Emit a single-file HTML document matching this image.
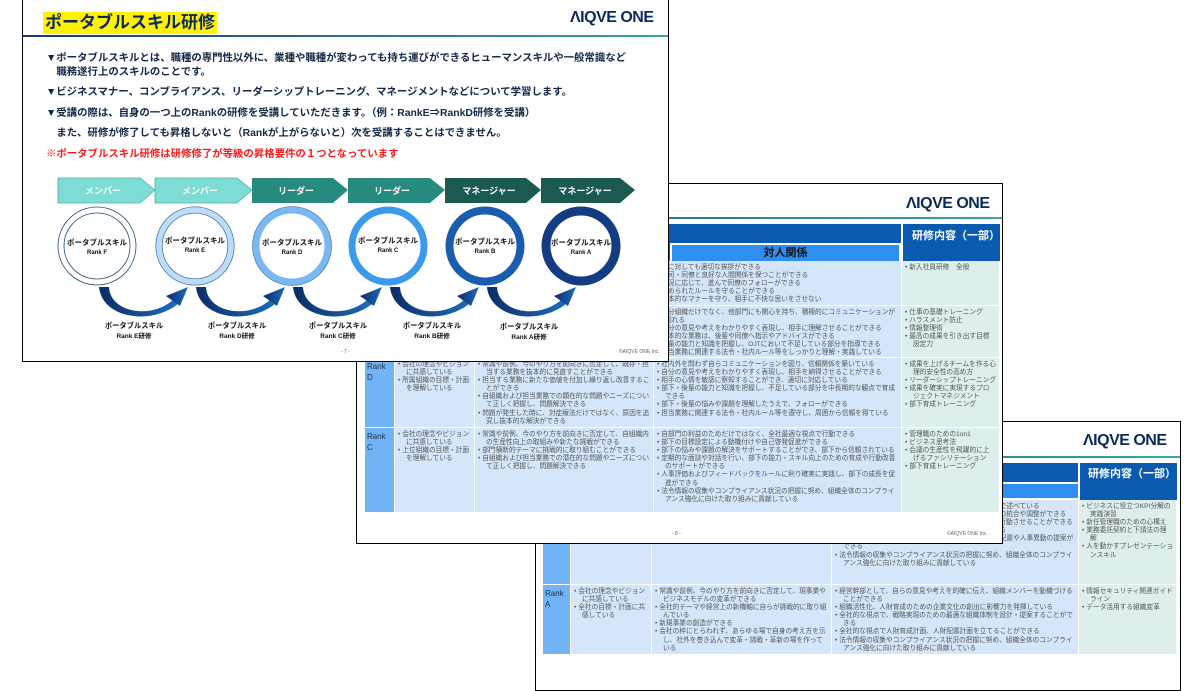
<!DOCTYPE html>
<html><head><meta charset="utf-8"><style>
*{margin:0;padding:0;box-sizing:border-box}
body{width:1200px;height:675px;background:#fff;position:relative;overflow:hidden;font-family:"Liberation Sans","Noto Sans CJK JP",sans-serif}
.sl{position:absolute;background:#fff;border:1.5px solid #000;overflow:hidden}
.ab{position:absolute}
.logo{position:absolute;font-family:"Liberation Sans",sans-serif;font-weight:bold;color:#0b2a5c;letter-spacing:-0.5px}
.c{position:absolute;overflow:hidden;font-size:6.7px;line-height:8.1px;color:#555;padding:3px 3px 0 3px;background:#d5e6fb;border-right:1.5px solid #fff;border-bottom:1.5px solid #fff}
.c div{padding-left:8px;text-indent:-8px}
.g{background:#ddeeed}
.rk{background:#70b4f6;color:#1a3050;font-size:8px;line-height:11px;padding:3px 2px}
.hd{position:absolute;background:#0a5bb0}
.ft{position:absolute;font-size:5px;color:#666}
.bt{position:absolute;left:23px;font-size:10.4px;font-weight:bold;color:#142848;line-height:13.5px;white-space:nowrap}
</style></head><body>

<!-- Slide 3 -->
<div class="sl" style="left:535px;top:421px;width:646px;height:270px">
 <div class="logo" style="left:547px;top:10px;font-size:16px">ΛIQVE ONE</div>
 <div class="ab" style="left:0;top:34px;width:646px;height:2px;background:linear-gradient(90deg,#1a4a7a,#3aa8a0)"></div>
</div>
<div class="hd" style="left:543px;top:463px;width:634px;height:37px"></div>
<div class="ab" style="left:1000px;top:482px;width:78px;height:18px;background:#2e8ff0;border:2px solid #fff;border-right:none"></div>
<div class="ab" style="left:1078px;top:463px;width:2px;height:37px;background:#fff"></div>
<div class="ab" style="left:1088px;top:465px;font-size:11px;color:#fff;font-weight:bold">研修内容（一部）</div>
<div class="c rk" style="left:543px;top:500px;width:28px;height:85px"></div>
<div class="c" style="left:571px;top:500px;width:81px;height:85px"></div>
<div class="c" style="left:652px;top:500px;width:180px;height:85px"><div>• 業務の手順やノウハウを整理し、チーム内のルールに体系化し、部内の再現性を高めることができる</div></div>
<div class="c" style="left:832px;top:500px;width:247px;height:85px">
<div>• 会議では自分の意見や考えを論理的に整理し、その場で述べている</div>
<div>• 会議の場でファシリテーターとして方向性を示し意見の統合や調整ができる</div>
<div>• 部下に対して役割や期待を明確に伝え、迷うことなく行動させることができる</div>
<div>• 必要なことはためらわずに指摘・フィードバックできる</div>
<div>• 部門全体のメンバの能力や適正を把握し、的確な人員配置や人事異動の提案ができる</div>
<div>• 法令情報の収集やコンプライアンス状況の把握に努め、組織全体のコンプライアンス強化に向けた取り組みに貢献している</div></div>
<div class="c g" style="left:1079px;top:500px;width:98px;height:85px">
<div>• ビジネスに役立つKPI分解の実践演習</div><div>• 新任管理職のための心構え</div><div>• 業務委託契約と下請法の理解</div><div>• 人を動かすプレゼンテーションスキル</div></div>
<div class="c rk" style="left:543px;top:585px;width:28px;height:70px">Rank<br>A</div>
<div class="c" style="left:571px;top:585px;width:81px;height:70px"><div>• 会社の理念やビジョンに共感している</div><div>• 全社の目標・計画に共感している</div></div>
<div class="c" style="left:652px;top:585px;width:180px;height:70px">
<div>• 常識や前例、今のやり方を前向きに否定して、現事業やビジネスモデルの変革ができる</div>
<div>• 全社的テーマや経営上の新機軸に自らが挑戦的に取り組んでいる</div>
<div>• 新規事業の創造ができる</div>
<div>• 会社の枠にとらわれず、あらゆる場で自身の考え方を示し、社外を巻き込んで変革・挑戦・革新の場を作っている</div></div>
<div class="c" style="left:832px;top:585px;width:247px;height:70px">
<div>• 経営幹部として、自らの意見や考えを的確に伝え、組織メンバーを動機づけることができる</div>
<div>• 組織活性化、人財育成のための企業文化の創出に影響力を発揮している</div>
<div>• 全社的な視点で、戦略実現のための最適な組織体制を設計・提案することができる</div>
<div>• 全社的な視点で人財育成計画、人財配置計画を立てることができる</div>
<div>• 法令情報の収集やコンプライアンス状況の把握に努め、組織全体のコンプライアンス強化に向けた取り組みに貢献している</div></div>
<div class="c g" style="left:1079px;top:585px;width:98px;height:70px"><div>• 情報セキュリティ関連ガイドライン</div><div>• データ活用する組織変革</div></div>

<!-- Slide 2 -->
<div class="sl" style="left:356px;top:183px;width:647px;height:361px">
 <div class="logo" style="left:549px;top:11px;font-size:16px">ΛIQVE ONE</div>
 <div class="ab" style="left:0;top:33px;width:647px;height:2px;background:linear-gradient(90deg,#1a4a7a,#3aa8a0)"></div>
 <div class="ft" style="left:315px;top:347px">- 8 -</div>
 <div class="ft" style="left:590px;top:347px">©AIQVE ONE Inc.</div>
 <div class="hd" style="left:8px;top:40px;width:635px;height:37px"></div>
 <div class="ab" style="left:313px;top:59px;width:231px;height:19px;background:#2e8ff0;border:2px solid #fff;border-bottom:none;text-align:center;font-size:11px;font-weight:bold;color:#111;line-height:16px">対人関係</div>
 <div class="ab" style="left:544px;top:40px;width:2px;height:37px;background:#fff"></div>
 <div class="ab" style="left:555px;top:43px;font-size:11px;color:#fff;font-weight:bold">研修内容（一部）</div>
 <div class="c rk" style="left:8px;top:77px;width:30px;height:45px"></div>
 <div class="c" style="left:38px;top:77px;width:80px;height:45px"></div>
 <div class="c" style="left:118px;top:77px;width:179px;height:45px"></div>
 <div class="c" style="left:297px;top:77px;width:248px;height:45px">
 <div>• 誰に対しても適切な挨拶ができる</div><div>• 上司・同僚と良好な人間関係を保つことができる</div><div>• 状況に応じて、進んで同僚のフォローができる</div><div>• 決められたルールを守ることができる</div><div>• 基本的なマナーを守り、相手に不快な思いをさせない</div></div>
 <div class="c g" style="left:545px;top:77px;width:98px;height:45px"><div>• 新入社員研修　全般</div></div>
 <div class="c rk" style="left:8px;top:122px;width:30px;height:52px"></div>
 <div class="c" style="left:38px;top:122px;width:80px;height:52px"></div>
 <div class="c" style="left:118px;top:122px;width:179px;height:52px"></div>
 <div class="c" style="left:297px;top:122px;width:248px;height:52px">
 <div>• 自分組織だけでなく、他部門にも関心を持ち、積極的にコミュニケーションが図れる</div><div>• 自分の意見や考えをわかりやすく表現し、相手に理解させることができる</div><div>• 基本的な業務は、後輩や同僚へ指示やアドバイスができる</div><div>• 後輩の能力と知識を把握し、OJTにおいて不足している部分を指導できる</div><div>• 担当業務に関連する法令・社内ルール等をしっかりと理解・実践している</div></div>
 <div class="c g" style="left:545px;top:122px;width:98px;height:52px"><div>• 仕事の基礎トレーニング</div><div>• ハラスメント防止</div><div>• 情報整理術</div><div>• 最高の成果を引き出す目標設定力</div></div>
 <div class="c rk" style="left:8px;top:174px;width:30px;height:70px">Rank<br>D</div>
 <div class="c" style="left:38px;top:174px;width:80px;height:70px"><div>• 会社の理念やビジョンに共感している</div><div>• 所属組織の目標・計画を理解している</div></div>
 <div class="c" style="left:118px;top:174px;width:179px;height:70px"><div>• 常識や前例、今のやり方を前向きに否定して、既存・担当する業務を抜本的に見直すことができる</div><div>• 担当する業務に新たな価値を付加し繰り返し改善することができる</div><div>• 自組織および担当業務での顕在的な問題やニーズについて正しく把握し、問題解決できる</div><div>• 問題が発生した時に、対症療法だけではなく、原因を追究し抜本的な解決ができる</div></div>
 <div class="c" style="left:297px;top:174px;width:248px;height:70px"><div>• 社内外を問わず自らコミュニケーションを図り、信頼関係を築いている</div><div>• 自分の意見や考えをわかりやすく表現し、相手を納得させることができる</div><div>• 相手の心情を敏感に察知することができ、適切に対応している</div><div>• 部下・後輩の能力と知識を把握し、不足している部分を中長期的な観点で育成できる</div><div>• 部下・後輩の悩みや課題を理解したうえで、フォローができる</div><div>• 担当業務に関連する法令・社内ルール等を遵守し、周囲から信頼を得ている</div></div>
 <div class="c g" style="left:545px;top:174px;width:98px;height:70px"><div>• 成果を上げるチームを作る心理的安全性の高め方</div><div>• リーダーシップトレーニング</div><div>• 成果を確実に実現するプロジェクトマネジメント</div><div>• 部下育成トレーニング</div></div>
 <div class="c rk" style="left:8px;top:244px;width:30px;height:85px">Rank<br>C</div>
 <div class="c" style="left:38px;top:244px;width:80px;height:85px"><div>• 会社の理念やビジョンに共感している</div><div>• 上位組織の目標・計画を理解している</div></div>
 <div class="c" style="left:118px;top:244px;width:179px;height:85px"><div>• 常識や前例、今のやり方を前向きに否定して、自組織内の生産性向上の取組みや新たな挑戦ができる</div><div>• 部門横断的テーマに挑戦的に取り組むことができる</div><div>• 自組織および担当業務での潜在的な問題やニーズについて正しく把握し、問題解決できる</div></div>
 <div class="c" style="left:297px;top:244px;width:248px;height:85px"><div>• 自部門の利益のためだけではなく、全社最適な視点で行動できる</div><div>• 部下の目標設定による動機付けや自己啓発促進ができる</div><div>• 部下の悩みや課題の解決をサポートすることができ、部下から信頼されている</div><div>• 定期的な面談や対話を行い、部下の能力・スキル向上のための育成や行動改善のサポートができる</div><div>• 人事評価およびフィードバックをルールに則り確実に実践し、部下の成長を促進ができる</div><div>• 法令情報の収集やコンプライアンス状況の把握に努め、組織全体のコンプライアンス強化に向けた取り組みに貢献している</div></div>
 <div class="c g" style="left:545px;top:244px;width:98px;height:85px"><div>• 管理職のための1on1</div><div>• ビジネス思考法</div><div>• 会議の生産性を飛躍的に上げるファシリテーション</div><div>• 部下育成トレーニング</div></div>
</div>

<!-- Slide 1 -->
<div class="sl" style="left:22px;top:-2px;width:647px;height:364px">
 <div class="ab" style="left:20px;top:13px;padding:0 2px;background:#fff200;font-size:17px;font-weight:bold;color:#0b2a5c;line-height:22px">ポータブルスキル研修</div>
 <div class="logo" style="left:547px;top:10px;font-size:16px">ΛIQVE ONE</div>
 <div class="ab" style="left:0;top:36px;width:647px;height:2px;background:linear-gradient(90deg,#1a3a6a,#3aa8a0)"></div>
 <div class="bt" style="top:53px">▼ポータブルスキルとは、職種の専門性以外に、業種や職種が変わっても持ち運びができるヒューマンスキルや一般常識など<br>　職務遂行上のスキルのことです。</div>
 <div class="bt" style="top:87px">▼ビジネスマナー、コンプライアンス、リーダーシップトレーニング、マネージメントなどについて学習します。</div>
 <div class="bt" style="top:108px">▼受講の際は、自身の一つ上のRankの研修を受講していただきます。（例：RankE⇒RankD研修を受講）</div>
 <div class="bt" style="top:128px">　また、研修が修了しても昇格しないと（Rankが上がらないと）次を受講することはできません。</div>
 <div class="bt" style="top:149px;color:#ff1a1a">※ポータブルスキル研修は研修修了が等級の昇格要件の１つとなっています</div>
 <div class="ft" style="left:318px;top:350px">- 7 -</div>
 <div class="ft" style="left:596px;top:350px">©AIQVE ONE Inc.</div>
</div>
<svg class="ab" style="left:0;top:0" width="670" height="362" font-family="Liberation Sans,Noto Sans CJK JP,sans-serif">
 <defs><linearGradient id="ag" x1="0" x2="1"><stop offset="0" stop-color="#0c2c66"/><stop offset="1" stop-color="#1e6cbe"/></linearGradient></defs>
 <g font-size="9" font-weight="bold" fill="#fff" text-anchor="middle">
  <polygon points="58,178 140,178 155,190 140,203 58,203" fill="#7ddcd3" stroke="#4fb0a6" stroke-width="0.8"/>
  <polygon points="155,178 237,178 252,190 237,203 155,203" fill="#7ddcd3" stroke="#4fb0a6" stroke-width="0.8"/>
  <polygon points="252,178 333,178 348,190 333,203 252,203" fill="#268a7e"/>
  <polygon points="348,178 430,178 445,190 430,203 348,203" fill="#268a7e"/>
  <polygon points="445,178 526,178 541,190 526,203 445,203" fill="#1b5a4f"/>
  <polygon points="541,178 620,178 635,190 620,203 541,203" fill="#1b5a4f"/>
  <text x="103" y="194">メンバー</text><text x="200" y="194">メンバー</text><text x="296" y="194">リーダー</text><text x="392" y="194">リーダー</text><text x="489" y="194">マネージャー</text><text x="585" y="194">マネージャー</text>
 </g>
 <g fill="#fff">
  <circle cx="97" cy="246" r="39" stroke="#2a4a70" stroke-width="0.8"/>
  <circle cx="97" cy="246" r="33" stroke="#2a4a70" stroke-width="0.8"/>
  <circle cx="195" cy="246" r="36" stroke="#bcdcf8" stroke-width="6.5"/>
  <circle cx="195" cy="246" r="39.2" fill="none" stroke="#3a6aa0" stroke-width="0.7"/>
  <circle cx="195" cy="246" r="32.8" fill="none" stroke="#3a6aa0" stroke-width="0.7"/>
  <circle cx="292" cy="246" r="36" stroke="#79b8f0" stroke-width="7"/>
  <circle cx="292" cy="246" r="39.5" fill="none" stroke="#3a6aa0" stroke-width="0.6"/>
  <circle cx="388" cy="246" r="36" stroke="#3c9aec" stroke-width="7"/>
  <circle cx="485" cy="246" r="35.5" stroke="#1a5cae" stroke-width="8"/>
  <circle cx="581" cy="246" r="35" stroke="#133c82" stroke-width="9"/>
 </g>
 <g font-weight="bold" fill="#111" text-anchor="middle">
  <g font-size="7.5"><text x="97" y="245">ポータブルスキル</text><text x="195" y="243">ポータブルスキル</text><text x="292" y="245">ポータブルスキル</text><text x="388" y="243">ポータブルスキル</text><text x="485" y="244">ポータブルスキル</text><text x="581" y="245">ポータブルスキル</text></g>
  <g font-size="6"><text x="97" y="254">Rank F</text><text x="195" y="252">Rank E</text><text x="292" y="254">Rank D</text><text x="388" y="252">Rank C</text><text x="485" y="253">Rank B</text><text x="581" y="254">Rank A</text></g>
 </g>
 <g fill="url(#ag)">
  <g id="ar"><path d="M99,287 L109,287 C110,312 150,320 173,300 L178,304 C150,326 102,318 99,287 Z"/><polygon points="166,296 188,287 180,306"/></g>
  <use href="#ar" x="97"/><use href="#ar" x="194"/><use href="#ar" x="291"/><use href="#ar" x="388"/>
 </g>
 <g font-size="7.3" font-weight="bold" fill="#111" text-anchor="middle">
  <text x="134" y="328">ポータブルスキル</text><text x="134" y="338" font-size="6.5">Rank E研修</text>
  <text x="237" y="328">ポータブルスキル</text><text x="237" y="338" font-size="6.5">Rank D研修</text>
  <text x="338" y="328">ポータブルスキル</text><text x="338" y="338" font-size="6.5">Rank C研修</text>
  <text x="432" y="328">ポータブルスキル</text><text x="432" y="338" font-size="6.5">Rank B研修</text>
  <text x="529" y="329">ポータブルスキル</text><text x="529" y="339" font-size="6.5">Rank A研修</text>
 </g>
</svg>
</body></html>
